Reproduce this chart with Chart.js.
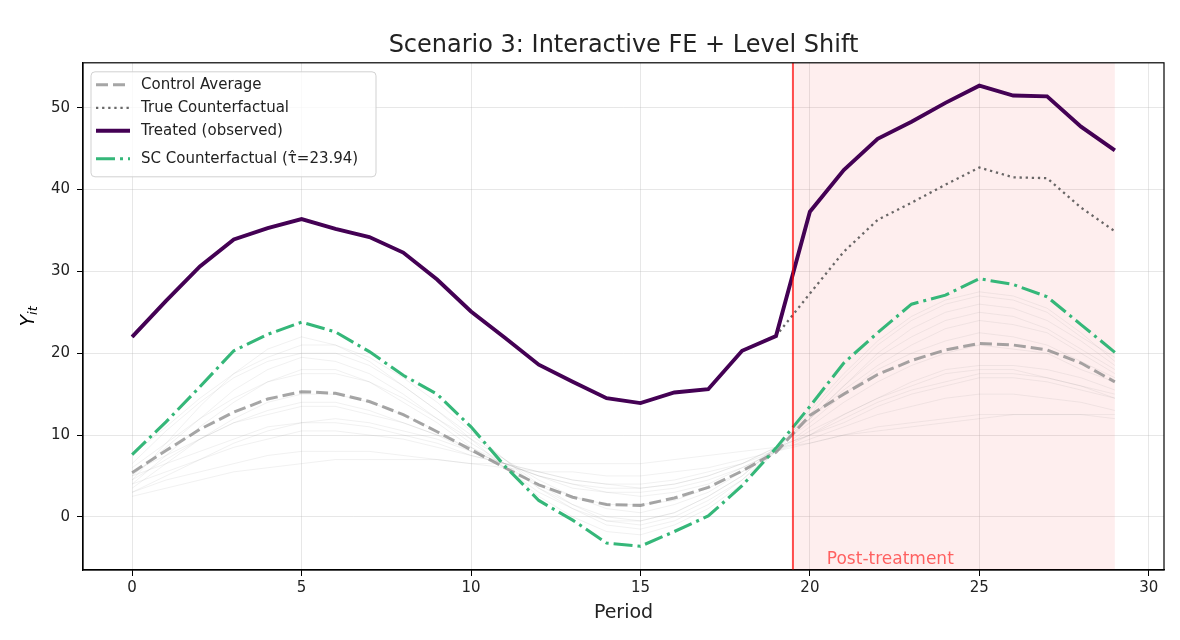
<!DOCTYPE html>
<html>
<head>
<meta charset="utf-8">
<title>Scenario 3: Interactive FE + Level Shift</title>
<script src="https://cdn.jsdelivr.net/npm/chart.js"></script>
<style>
  body { margin: 0; background: #fff; }
</style>
</head>
<body>

<canvas id="myChart" width="1180" height="640"></canvas>

<script>
    var periods = [0, 1, 2, 3, 4, 5, 6, 7, 8, 9, 10, 11, 12, 13, 14, 15, 16, 17, 18, 19, 20, 21, 22, 23, 24, 25, 26, 27, 28, 29];

    var treated = [22.0, 26.4, 30.6, 33.9, 35.3, 36.4, 35.2, 34.2, 32.3, 29.0, 25.1, 21.9, 18.6, 16.5, 14.5, 13.9, 15.2, 15.6, 20.3, 22.1,
                   37.3, 42.4, 46.2, 48.3, 50.6, 52.7, 51.5, 51.4, 47.7, 44.8];
    var trueCounterfactual = [22.0, 26.4, 30.6, 33.9, 35.3, 36.4, 35.2, 34.2, 32.3, 29.0, 25.1, 21.9, 18.6, 16.5, 14.5, 13.9, 15.2, 15.6, 20.3, 22.1,
                              27.3, 32.4, 36.3, 38.4, 40.6, 42.7, 41.5, 41.4, 37.8, 34.9];
    var controlAverage = [5.4, 8.1, 10.7, 12.8, 14.4, 15.3, 15.1, 14.1, 12.5, 10.4, 8.2, 6.0, 3.9, 2.4, 1.5, 1.4, 2.3, 3.6, 5.6, 7.9,
                          12.4, 15.0, 17.4, 19.1, 20.4, 21.2, 21.0, 20.4, 18.8, 16.5];
    var scCounterfactual = [7.6, 11.6, 15.9, 20.3, 22.3, 23.8, 22.6, 20.2, 17.3, 15.0, 11.0, 6.2, 2.0, -0.4, -3.2, -3.6, -1.8, 0.1, 3.8, 8.4,
                            13.5, 18.8, 22.5, 26.0, 27.1, 29.1, 28.4, 26.9, 23.5, 20.1];

    // faint donor-pool trajectories, read roughly off the background
    var controlUnits = [
        [4.5, 9.0, 13.5, 17.5, 20.5, 22.0, 21.0, 19.0, 16.0, 13.0, 9.5, 6.0, 2.5, 0.0, -1.8, -2.2, -1.0, 1.0, 4.0, 8.0, 13.0, 17.5, 21.5, 24.5, 26.5, 27.5, 27.0, 25.5, 22.5, 19.0],
        [5.0, 8.5, 12.0, 15.5, 18.0, 19.5, 19.0, 17.5, 15.0, 12.0, 9.0, 6.5, 3.5, 1.5, 0.0, -0.5, 0.5, 2.5, 5.0, 8.5, 12.0, 16.0, 19.5, 22.0, 24.0, 25.0, 24.5, 23.0, 20.5, 18.0],
        [6.0, 9.0, 12.0, 14.5, 16.5, 17.5, 17.5, 16.5, 14.5, 12.0, 9.5, 7.0, 4.5, 2.5, 1.0, 0.5, 1.5, 3.0, 5.5, 8.5, 11.5, 15.0, 18.0, 20.0, 21.5, 22.5, 22.0, 21.0, 19.0, 17.0],
        [3.5, 6.5, 9.5, 12.0, 14.0, 15.0, 15.0, 14.0, 12.5, 10.5, 8.0, 6.0, 4.0, 2.5, 1.5, 1.5, 2.0, 3.5, 5.5, 8.0, 11.0, 14.0, 16.5, 18.5, 20.0, 21.0, 20.5, 20.0, 18.0, 16.5],
        [5.5, 7.5, 9.5, 11.5, 12.5, 13.5, 13.5, 12.5, 11.5, 10.0, 8.0, 6.5, 5.0, 3.5, 3.0, 2.5, 3.0, 4.0, 6.0, 8.0, 10.5, 12.5, 14.5, 16.0, 17.5, 18.0, 18.0, 17.0, 16.0, 14.5],
        [4.0, 5.5, 7.0, 8.5, 9.5, 10.5, 10.5, 10.0, 9.5, 8.5, 7.5, 6.5, 5.5, 4.5, 4.0, 4.0, 4.5, 5.5, 6.5, 8.0, 9.5, 11.0, 12.5, 13.5, 14.5, 15.0, 15.0, 14.5, 14.0, 13.0],
        [3.0, 4.5, 5.5, 6.5, 7.5, 8.0, 8.0, 8.0, 7.5, 7.0, 6.5, 6.0, 5.5, 5.5, 5.0, 5.0, 5.5, 6.0, 7.0, 8.0, 9.0, 10.0, 11.0, 11.5, 12.0, 12.5, 12.5, 12.5, 12.5, 12.0],
        [2.5, 3.5, 4.5, 5.5, 6.0, 6.5, 7.0, 7.0, 7.0, 7.0, 6.5, 6.5, 6.5, 6.5, 6.5, 6.5, 7.0, 7.5, 8.0, 8.5, 9.0, 10.0, 10.5, 11.0, 11.5, 12.0, 12.5, 12.5, 12.5, 12.5],
        [6.5, 10.5, 14.0, 17.0, 19.0, 20.0, 20.0, 18.5, 16.0, 13.0, 10.0, 7.0, 4.0, 1.5, -0.5, -1.0, 0.0, 2.0, 4.5, 8.0, 12.0, 16.0, 20.0, 23.0, 25.0, 26.0, 25.5, 24.0, 21.5, 18.5],
        [4.5, 7.0, 9.5, 11.5, 13.0, 14.0, 14.0, 13.0, 11.5, 10.0, 8.5, 6.5, 5.0, 4.0, 3.0, 3.0, 3.5, 4.5, 6.0, 8.0, 10.0, 12.5, 14.5, 16.5, 18.0, 18.5, 18.5, 18.0, 17.0, 15.5],
        [7.5, 11.0, 14.5, 17.5, 19.5, 21.0, 21.0, 19.5, 17.0, 14.0, 10.5, 7.0, 3.5, 1.0, -1.0, -1.5, -0.5, 1.5, 4.5, 8.5, 12.5, 17.0, 21.0, 24.0, 26.0, 27.0, 26.5, 25.0, 22.0, 19.5],
        [5.0, 6.5, 8.0, 9.5, 11.0, 11.5, 11.5, 11.0, 10.0, 9.0, 7.5, 6.5, 5.5, 4.5, 4.0, 3.5, 4.0, 5.0, 6.5, 8.5, 10.0, 11.5, 13.5, 15.0, 16.0, 17.0, 17.0, 16.5, 15.5, 14.5],
        [4.0, 7.5, 11.0, 14.0, 16.5, 18.0, 18.0, 16.5, 14.0, 11.5, 8.5, 6.0, 3.0, 1.0, -0.5, -0.5, 0.5, 2.5, 5.0, 8.5, 12.0, 15.5, 18.5, 21.0, 23.0, 24.0, 23.5, 22.5, 20.0, 17.5],
        [3.0, 5.0, 7.0, 9.0, 10.5, 11.5, 12.0, 11.5, 10.5, 9.5, 8.0, 6.5, 5.0, 4.0, 3.5, 3.5, 4.0, 5.0, 6.5, 8.5, 10.0, 12.0, 14.0, 15.5, 16.5, 17.5, 17.5, 17.0, 16.0, 15.0]
    ];

    var xTicks = [0, 5, 10, 15, 20, 25, 30];
    var yTicks = [0, 10, 20, 30, 40, 50];
    var treatmentStart = 19.5;
    var lastPeriod = 29;
    var scTau = '23.94';

    function toPoints(values) {
        return periods.map(function (p, i) { return { x: p, y: values[i] }; });
    }

    var datasets = [];
    controlUnits.forEach(function (unit) {
        datasets.push({
            label: '',
            data: toPoints(unit),
            borderColor: 'rgba(128, 128, 128, 0.14)',
            borderWidth: 0.8,
            order: 5
        });
    });
    datasets.push({
        label: 'Control Average',
        data: toPoints(controlAverage),
        borderColor: 'rgba(128, 128, 128, 0.7)',
        borderWidth: 3,
        borderDash: [12, 5],
        order: 4
    });
    datasets.push({
        label: 'True Counterfactual',
        data: toPoints(trueCounterfactual),
        borderColor: 'rgba(68, 68, 68, 0.8)',
        borderWidth: 2.3,
        borderDash: [2.3, 3.8],
        order: 3
    });
    datasets.push({
        label: 'Treated (observed)',
        data: toPoints(treated),
        borderColor: '#440154',
        borderWidth: 3.9,
        order: 2
    });
    datasets.push({
        label: 'SC Counterfactual (\u03C4\u0302=' + scTau + ')',
        data: toPoints(scCounterfactual),
        borderColor: '#35b779',
        borderWidth: 3.1,
        borderDash: [19, 5, 3, 5],
        order: 1
    });

    // pink post-treatment band under the lines
    var bandPlugin = {
        id: 'band',
        beforeDatasetsDraw(chart) {
            var c = chart.ctx, x = chart.scales.x, a = chart.chartArea;
            c.save();
            c.fillStyle = 'rgba(240, 0, 0, 0.065)';
            c.fillRect(x.getPixelForValue(treatmentStart), a.top, x.getPixelForValue(lastPeriod) - x.getPixelForValue(treatmentStart), a.bottom - a.top);
            c.restore();
        },
        afterDatasetsDraw(chart) {
            var c = chart.ctx, x = chart.scales.x, y = chart.scales.y, a = chart.chartArea;
            var px = x.getPixelForValue(treatmentStart);
            c.save();
            c.strokeStyle = 'rgba(255, 0, 0, 0.7)';
            c.lineWidth = 2;
            c.beginPath();
            c.moveTo(px, a.top);
            c.lineTo(px, a.bottom);
            c.stroke();
            c.fillStyle = 'rgba(255, 0, 0, 0.6)';
            c.font = '17px "DejaVu Sans"';
            c.textBaseline = 'middle';
            c.textAlign = 'left';
            c.fillText('Post-treatment', x.getPixelForValue(treatmentStart + 1), y.getPixelForValue(-5.2));
            c.restore();
        }
    };

    // frame, y label with subscript, and the boxed legend
    var decorPlugin = {
        id: 'decor',
        afterDraw(chart) {
            var c = chart.ctx, a = chart.chartArea;
            c.save();
            c.strokeStyle = '#000';
            c.lineWidth = 1.2;
            c.strokeRect(a.left, a.top, a.right - a.left, a.bottom - a.top);

            c.fillStyle = '#000';
            c.translate(27, (a.top + a.bottom) / 2);
            c.rotate(-Math.PI / 2);
            c.textBaseline = 'alphabetic';
            c.textAlign = 'left';
            c.font = 'italic 19px "DejaVu Sans"';
            var wY = c.measureText('Y').width;
            c.font = 'italic 13px "DejaVu Sans"';
            var wIt = c.measureText('it').width;
            var x0 = -(wY + wIt) / 2;
            c.font = 'italic 19px "DejaVu Sans"';
            c.fillText('Y', x0, 7);
            c.font = 'italic 13px "DejaVu Sans"';
            c.fillText('it', x0 + wY, 10);
            c.restore();

            var items = chart.data.datasets.filter(function (d) { return d.label; });
            var bx = a.left + 8, by = a.top + 9, bw = 285, bh = 105;
            var rowY = [13, 36, 59, 87];
            c.save();
            c.fillStyle = 'rgba(255, 255, 255, 0.8)';
            c.strokeStyle = 'rgba(204, 204, 204, 0.9)';
            c.lineWidth = 1;
            c.beginPath();
            c.roundRect(bx, by, bw, bh, 4);
            c.fill();
            c.stroke();
            c.font = '15px "DejaVu Sans"';
            c.textBaseline = 'middle';
            items.forEach(function (d, i) {
                var ly = by + rowY[i];
                c.strokeStyle = d.borderColor;
                c.lineWidth = d.borderWidth;
                c.setLineDash(d.borderDash || []);
                c.beginPath();
                c.moveTo(bx + 5, ly);
                c.lineTo(bx + 39, ly);
                c.stroke();
                c.setLineDash([]);
                c.fillStyle = '#222';
                c.fillText(d.label, bx + 50, ly);
            });
            c.restore();
        }
    };

    var ctx = document.getElementById('myChart').getContext('2d');
    var myChart = new Chart(ctx, {
        type: 'line',
        data: { datasets: datasets },
        options: {
            responsive: false,
            animation: false,
            layout: { padding: { left: 0, right: 16, top: 0, bottom: 0 } },
            elements: { point: { radius: 0 }, line: { tension: 0 } },
            plugins: {
                legend: { display: false },
                tooltip: { enabled: false },
                title: {
                    display: true,
                    fullSize: false,
                    text: 'Scenario 3: Interactive FE + Level Shift',
                    color: '#222',
                    font: { family: 'DejaVu Sans', size: 24, weight: 'normal' },
                    padding: { top: 31, bottom: 3 }
                }
            },
            scales: {
                x: {
                    type: 'linear',
                    min: -1.45,
                    max: 30.45,
                    afterFit: function (s) { s.height = 70; },
                    afterBuildTicks: function (s) { s.ticks = xTicks.map(function (v) { return { value: v }; }); },
                    ticks: { color: '#222', font: { family: 'DejaVu Sans', size: 15 }, padding: 3, maxRotation: 0 },
                    grid: { color: 'rgba(176, 176, 176, 0.3)', tickColor: '#000', tickLength: 6 },
                    border: { color: '#000', width: 1.2 },
                    title: {
                        display: true,
                        text: 'Period',
                        color: '#222',
                        font: { family: 'DejaVu Sans', size: 19 },
                        padding: { top: 0, bottom: 16 }
                    }
                },
                y: {
                    type: 'linear',
                    min: -6.5,
                    max: 55.5,
                    afterFit: function (s) { s.width = 83; },
                    afterBuildTicks: function (s) { s.ticks = yTicks.map(function (v) { return { value: v }; }); },
                    ticks: { color: '#222', font: { family: 'DejaVu Sans', size: 15 }, padding: 7 },
                    grid: { color: 'rgba(176, 176, 176, 0.3)', tickColor: '#000', tickLength: 6 },
                    border: { color: '#000', width: 1.2 }
                }
            }
        },
        plugins: [bandPlugin, decorPlugin]
    });
</script>

</body>
</html>
